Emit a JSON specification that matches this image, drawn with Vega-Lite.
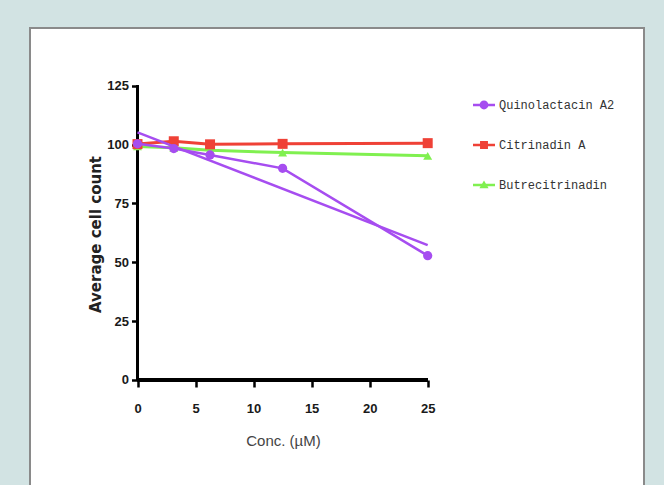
{
  "$schema": "https://vega.github.io/schema/vega-lite/v6.json",
  "width": 614,
  "height": 460,
  "autosize": {"type": "none"},
  "padding": {"left": 30, "top": 28, "right": 20, "bottom": 0},
  "background": "#d2e3e3",
  "config": {
    "view": {"fill": "white", "stroke": "#8a8a8a", "strokeWidth": 2},
    "axis": {
      "grid": false,
      "domain": false,
      "tickColor": "black",
      "tickWidth": 2.5,
      "tickSize": 6,
      "labelFont": "Liberation Sans Narrow, Liberation Sans, sans-serif",
      "labelFontWeight": "bold",
      "labelFontSize": 13,
      "labelColor": "#1a1a1a",
      "zindex": 1
    }
  },
  "datasets": {
    "obs": [
      {"series": "Quinolactacin A2", "conc": 0, "count": 100.3},
      {"series": "Quinolactacin A2", "conc": 3.125, "count": 98.3},
      {"series": "Quinolactacin A2", "conc": 6.25, "count": 95.6},
      {"series": "Quinolactacin A2", "conc": 12.5, "count": 89.9},
      {"series": "Quinolactacin A2", "conc": 25, "count": 52.8},
      {"series": "Citrinadin A", "conc": 0, "count": 100.2},
      {"series": "Citrinadin A", "conc": 3.125, "count": 101.4},
      {"series": "Citrinadin A", "conc": 6.25, "count": 100.1},
      {"series": "Citrinadin A", "conc": 12.5, "count": 100.3},
      {"series": "Citrinadin A", "conc": 25, "count": 100.6},
      {"series": "Butrecitrinadin", "conc": 0, "count": 99.2},
      {"series": "Butrecitrinadin", "conc": 3.125, "count": 98.6},
      {"series": "Butrecitrinadin", "conc": 6.25, "count": 97.6},
      {"series": "Butrecitrinadin", "conc": 12.5, "count": 96.6},
      {"series": "Butrecitrinadin", "conc": 25, "count": 95.2}
    ],
    "trend": [
      {"conc": 0, "count": 105.2},
      {"conc": 25, "count": 57.3}
    ]
  },
  "data": {"name": "obs"},
  "encoding": {
    "x": {
      "field": "conc", "type": "quantitative",
      "scale": {"domain": [-9.261, 43.634], "nice": false, "zero": false},
      "axis": {
        "values": [0, 5, 10, 15, 20, 25],
        "offset": -108,
        "labelPadding": 15,
        "tickSize": 7,
        "title": "Conc. (µM)",
        "titleFont": "Liberation Sans, sans-serif",
        "titleFontSize": 15,
        "titleFontWeight": "normal",
        "titleColor": "#444",
        "titleX": 253,
        "titleY": 60,
        "titleBaseline": "middle",
        "titleAlign": "center"
      }
    },
    "y": {
      "field": "count", "type": "quantitative",
      "scale": {"domain": [-45.88, 149.51], "nice": false, "zero": false},
      "axis": {
        "values": [0, 25, 50, 75, 100, 125],
        "offset": -107.5,
        "labelPadding": 3,
        "title": "Average cell count",
        "titleFont": "DejaVu Sans, sans-serif",
        "titleFontSize": 15,
        "titleFontWeight": "bold",
        "titleColor": "#222",
        "titleX": -42,
        "titleY": 206,
        "titleBaseline": "middle",
        "titleAlign": "center",
        "titleAngle": -90
      }
    }
  },
  "layer": [
    {
      "mark": {"type": "rule", "color": "black", "strokeWidth": 3},
      "encoding": {"x": {"datum": 0}, "y": {"datum": 0}, "y2": {"datum": 125}}
    },
    {
      "mark": {"type": "rule", "color": "black", "strokeWidth": 3},
      "encoding": {"y": {"datum": 0}, "x": {"datum": 0}, "x2": {"datum": 25}}
    },
    {
      "transform": [{"filter": "datum.series === 'Butrecitrinadin'"}],
      "mark": {"type": "line", "color": "#80f050", "strokeWidth": 3},
      "encoding": {}
    },
    {
      "transform": [{"filter": "datum.series === 'Butrecitrinadin'"}],
      "mark": {"type": "point", "shape": "triangle-up", "filled": true, "opacity": 1, "color": "#80f050", "size": 80},
      "encoding": {}
    },
    {
      "transform": [{"filter": "datum.series === 'Citrinadin A'"}],
      "mark": {"type": "line", "color": "#ef4136", "strokeWidth": 3},
      "encoding": {}
    },
    {
      "transform": [{"filter": "datum.series === 'Citrinadin A'"}],
      "mark": {"type": "point", "shape": "square", "filled": true, "opacity": 1, "color": "#ef4136", "size": 100},
      "encoding": {}
    },
    {
      "data": {"name": "trend"},
      "mark": {"type": "line", "color": "#a64df0", "strokeWidth": 2.5},
      "encoding": {}
    },
    {
      "transform": [{"filter": "datum.series === 'Quinolactacin A2'"}],
      "mark": {"type": "line", "color": "#a64df0", "strokeWidth": 2.5},
      "encoding": {}
    },
    {
      "transform": [{"filter": "datum.series === 'Quinolactacin A2'"}],
      "mark": {"type": "point", "shape": "circle", "filled": true, "opacity": 1, "color": "#a64df0", "size": 85},
      "encoding": {}
    },
    {
      "mark": {"type": "point", "filled": true, "opacity": 0},
      "encoding": {
        "color": {
          "field": "series", "type": "nominal",
          "scale": {"domain": ["Quinolactacin A2", "Citrinadin A", "Butrecitrinadin"], "range": ["#a64df0", "#ef4136", "#80f050"]},
          "legend": {
            "orient": "none",
            "legendX": 443,
            "legendY": 66,
            "title": null,
            "padding": 0,
            "symbolSize": 484,
            "symbolStrokeWidth": 0,
            "symbolOpacity": 1,
            "labelFont": "Liberation Mono, monospace",
            "labelFontSize": 12,
            "labelColor": "#333",
            "labelOffset": 4,
            "rowPadding": 23,
            "zindex": 1
          }
        },
        "shape": {
          "field": "series", "type": "nominal",
          "scale": {"domain": ["Quinolactacin A2", "Citrinadin A", "Butrecitrinadin"], "range": [
            "M-1,-0.12H1V0.12H-1Z M-0.4,0A0.4,0.4 0 1,1 0.4,0A0.4,0.4 0 1,1 -0.4,0Z",
            "M-1,-0.12H1V0.12H-1Z M-0.36,-0.36H0.36V0.36H-0.36Z",
            "M-1,-0.12H1V0.12H-1Z M0,-0.42L0.42,0.3H-0.42Z"
          ]},
          "legend": {
            "orient": "none",
            "legendX": 443,
            "legendY": 66,
            "title": null,
            "padding": 0,
            "symbolSize": 484,
            "symbolStrokeWidth": 0,
            "symbolOpacity": 1,
            "labelFont": "Liberation Mono, monospace",
            "labelFontSize": 12,
            "labelColor": "#333",
            "labelOffset": 4,
            "rowPadding": 23,
            "zindex": 1
          }
        }
      }
    }
  ]
}
